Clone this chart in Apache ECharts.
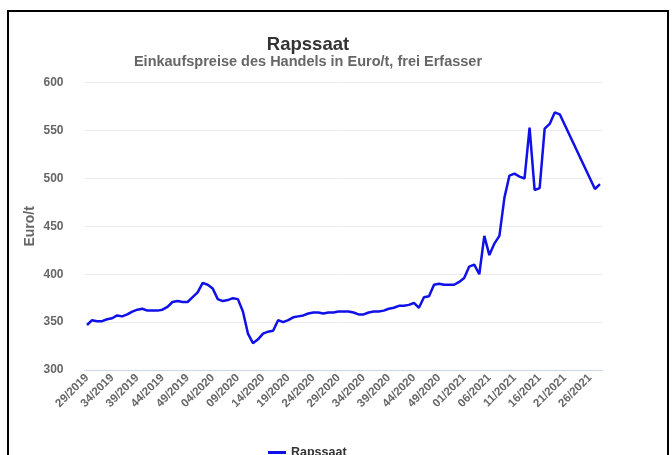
<!DOCTYPE html>
<html>
<head>
<meta charset="utf-8">
<script src="https://cdn.jsdelivr.net/npm/echarts@6/dist/echarts.min.js"></script>
<style>
  html, body { margin: 0; padding: 0; background: #fff; }
  #frame { position: absolute; left: 7px; top: 10px; width: 658px; height: 460px; border: 2px solid #000; border-bottom: none; }
  #chart { position: absolute; left: 0; top: 0; width: 672px; height: 455px; }
</style>
</head>
<body>
<div id="frame"></div>
<div id="chart"></div>
<script>
const weeks2019 = ['29','30','31','32','33','34','35','36','37','38','39','40','41','42','43','44','45','46','47','48','49','50','51'];
const weeks2020 = ['02','03','04','05','06','07','08','09','10','11','12','13','14','15','16','17','18','19','20','21','22','23','24','25','26','27','28','29','30','31','32','33','34','35','36','37','38','39','40','41','42','43','44','45','46','47','48','49','50','51','52','53'];
const weeks2021 = ['01','02','03','04','05','06','07','08','09','10','11','12','13','14','15','16','17','18','19','20','21','22','23','24','25','26','27','28'];
const categories = [].concat(
  weeks2019.map(w => w + '/2019'),
  weeks2020.map(w => w + '/2020'),
  weeks2021.map(w => w + '/2021')
);
const values2019 = [347,352,351,351,353,354,357,356,358,361,363,364,362,362,362,363,366,371,372,371,371,376,381];
const values2020 = [391,389,385,374,372,373,375,374,361,338,328,332,338,340,341,352,350,352,355,356,357,359,360,360,359,360,360,361,361,361,360,358,358,360,361,361,362,364,365,367,367,368,370,365,376,377,389,390,389,389,389,392];
const values2021 = [396,408,410,400,440,420,432,440,480,503,505,502,500,553,488,490,552,557,569,567,null,null,null,null,null,null,489,494];
const seriesValues = [].concat(values2019, values2020, values2021);
const yTicks = { min: 300, max: 600, interval: 50 };

const font = 'Liberation Sans, Arial, sans-serif';
const chart = echarts.init(document.getElementById('chart'));
chart.setOption({
  animation: false,
  title: {
    text: 'Rapssaat',
    subtext: 'Einkaufspreise des Handels in Euro/t, frei Erfasser',
    left: 303,
    textAlign: 'center',
    top: 30,
    itemGap: 0,
    textStyle: { fontFamily: font, fontSize: 18.5, fontWeight: 'bold', color: '#333' },
    subtextStyle: { fontFamily: font, fontSize: 14.5, fontWeight: 'bold', color: '#666' }
  },
  legend: {
    data: ['Rapssaat'],
    left: 263,
    top: 441,
    icon: 'rect',
    itemWidth: 18,
    itemHeight: 3,
    itemGap: 5,
    textStyle: { fontFamily: font, fontSize: 12.5, fontWeight: 'bold', color: '#333' }
  },
  grid: { left: 84.5, right: 69.5, top: 82.7, bottom: 85, containLabel: false },
  xAxis: {
    type: 'category',
    data: categories,
    boundaryGap: true,
    axisLine: { show: true, lineStyle: { color: '#ccd6eb', width: 1 } },
    axisTick: { show: false },
    axisLabel: {
      interval: 4,
      rotate: 45,
      margin: 6,
      fontFamily: font,
      fontSize: 11.5,
      fontWeight: 'bold',
      color: '#666'
    },
    splitLine: { show: false }
  },
  yAxis: {
    type: 'value',
    min: yTicks.min,
    max: yTicks.max,
    interval: yTicks.interval,
    name: 'Euro/t',
    nameLocation: 'middle',
    nameRotate: 90,
    nameGap: 47,
    nameMoveOverlap: false,
    nameTextStyle: { fontFamily: font, fontSize: 14, fontWeight: 'bold', color: '#666' },
    axisLine: { show: false },
    axisTick: { show: false },
    axisLabel: { margin: 21, fontFamily: font, fontSize: 12, fontWeight: 'bold', color: '#666' },
    splitLine: { lineStyle: { color: '#ececec', width: 1 } }
  },
  series: [{
    name: 'Rapssaat',
    type: 'line',
    data: seriesValues,
    connectNulls: true,
    showSymbol: false,
    symbol: 'none',
    color: '#1010e8',
    lineStyle: { color: '#1010e8', width: 2.5 }
  }]
});
</script>
</body>
</html>
